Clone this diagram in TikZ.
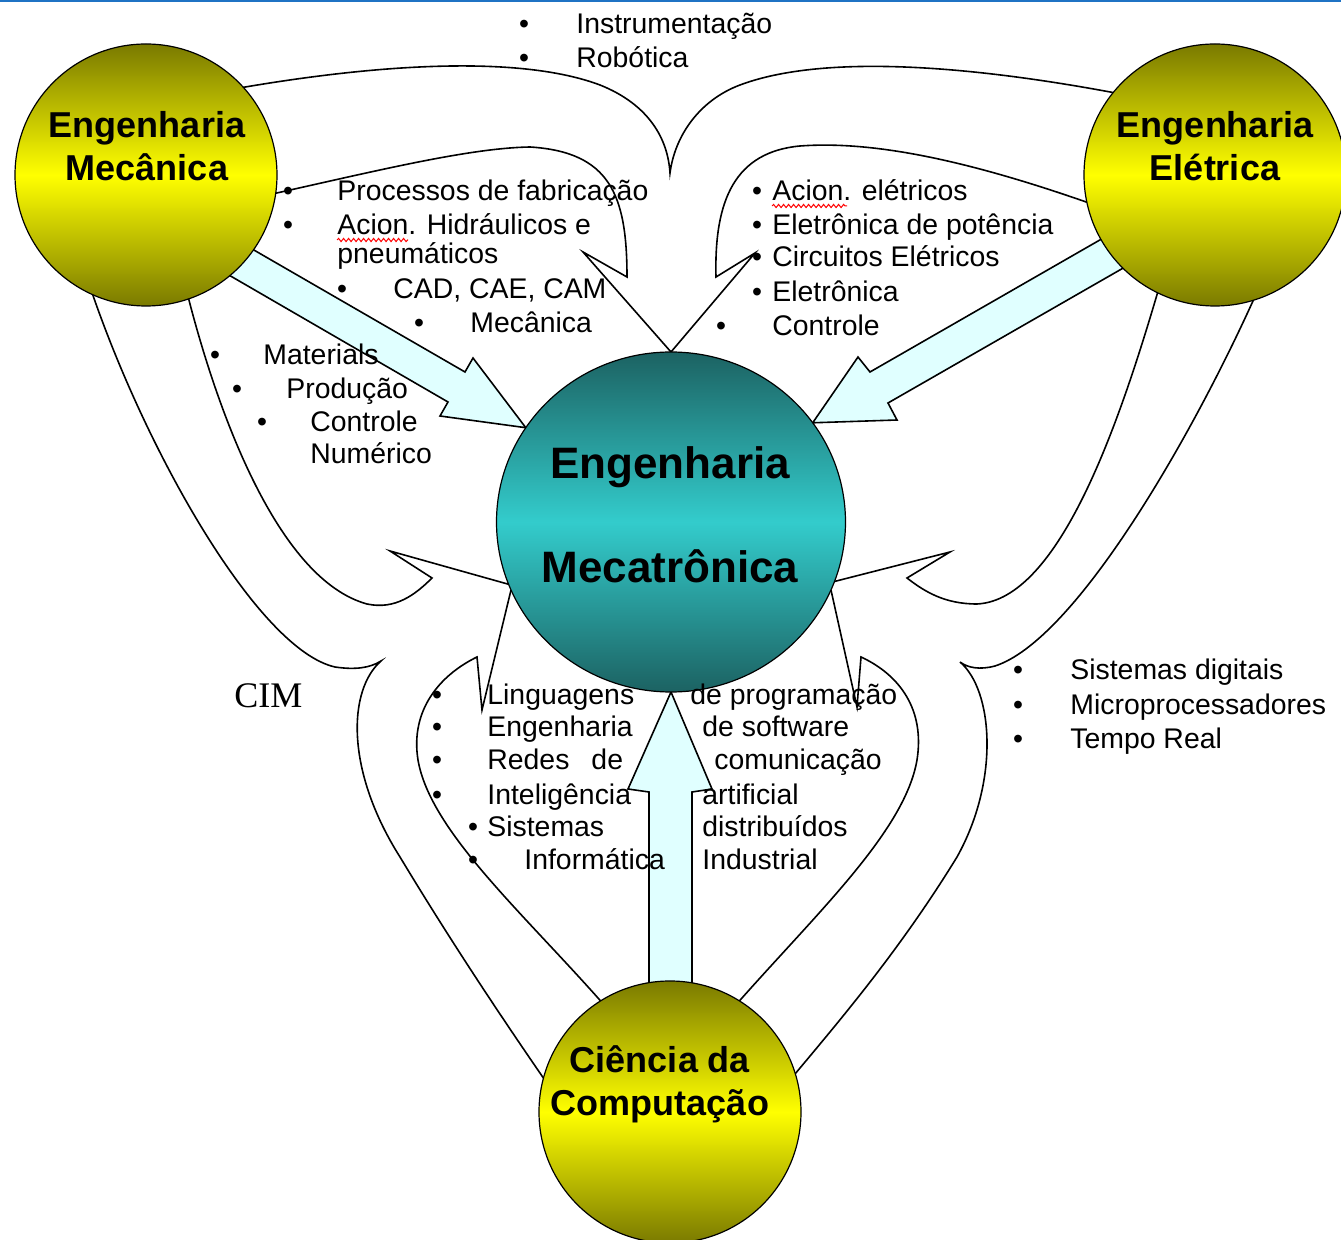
\documentclass[tikz,border=0pt]{standalone}
\usepackage{fontspec}
\setmainfont{Liberation Sans}
\newfontfamily\cimfont{Liberation Serif}
\usetikzlibrary{shapes.geometric,decorations.pathmorphing,calc,backgrounds}
\definecolor{olivedark}{HTML}{7A7A00}
\definecolor{yellowlight}{HTML}{FFFF00}
\definecolor{tealdark}{HTML}{1C6262}
\definecolor{teallight}{HTML}{33CCCC}
\definecolor{arrowfill}{HTML}{E0FFFF}
\definecolor{topblue}{HTML}{1F73C4}

\begin{document}
\begin{tikzpicture}[
  x=0.5pt, y=-0.5pt,
  area/.style={circle, draw=black, line width=0.6pt, inner sep=0pt, outer sep=0pt, minimum size=131pt, top color=olivedark, bottom color=olivedark, middle color=yellowlight},
  core/.style={ellipse, draw=black, line width=0.6pt, inner sep=0pt, outer sep=0pt, minimum width=174.5pt, minimum height=170pt, top color=tealdark, bottom color=tealdark, middle color=teallight},
  title/.style={font=\fontsize{18}{21.5}\selectfont\bfseries, align=center, inner sep=0pt},
  bigtitle/.style={font=\fontsize{22}{26}\selectfont\bfseries, align=center, inner sep=0pt},
  item/.style={anchor=base west, inner sep=0pt, font=\fontsize{14.2}{17}\selectfont},
  dot/.style={anchor=base, inner sep=0pt, font=\fontsize{14.2}{17}\selectfont},
  link/.style={line width=0.8pt},
  block/.style={draw=black, line width=0.8pt, fill=arrowfill},
  spell/.style={draw=red, line width=0.5pt, decorate, decoration={snake, amplitude=0.8pt, segment length=2.5pt}},
  topline/.style={draw=topblue, line width=1pt},
]
\useasboundingbox (0,0) rectangle (1341,1240);

% the four areas
\node[area] (mec) at (146,175) {};
\node[area] (ele) at (1215,175) {};
\node[area] (comp) at (670,1112) {};
\node[core] (cen) at (671,522) {};

\node[title] (mect) at (147,146) {Engenharia\\Mecânica};
\node[title] (elet) at (1215,146) {Engenharia\\Elétrica};
\node[title] (compt) at (660,1084) {Ciência da\\Computação};
\node[bigtitle] (cent) at (670,515) {Engenharia\\[26pt]Mecatrônica};

% top list
\node[dot] (tb1) at (524,34) {•};
\node[item] (t1) at (576,34) {Instrumentação};
\node[dot] (tb2) at (524,68) {•};
\node[item] (t2) at (576,68) {Robótica};

% mecanica list
\node[dot] (mb1) at (288,201) {•};
\node[item] (m1) at (337,201) {Processos de fabricação};
\node[dot] (mb2) at (288,235) {•};
\node[item] (m2) at (337,235) {Acion. Hidráulicos e};
\node[item] (m2b) at (337,264) {pneumáticos};
\node[dot] (mb3) at (342,299) {•};
\node[item] (m3) at (393,299) {CAD, CAE, CAM};
\node[dot] (mb4) at (419,333) {•};
\node[item] (m4) at (470,333) {Mecânica};

% shared with production
\node[dot] (pb1) at (215,365) {•};
\node[item] (p1) at (263,365) {Materials};
\node[dot] (pb2) at (237,399) {•};
\node[item] (p2) at (286,399) {Produção};
\node[dot] (pb3) at (262,432) {•};
\node[item] (p3) at (310,432) {Controle};
\node[item] (p3b) at (310,464) {Numérico};

% eletrica list
\node[dot] (eb1) at (757,201) {•};
\node[item] (e1) at (772,201) {Acion. elétricos};
\node[dot] (eb2) at (757,235) {•};
\node[item] (e2) at (772,235) {Eletrônica de potência};
\node[dot] (eb3) at (757,267) {•};
\node[item] (e3) at (772,267) {Circuitos Elétricos};
\node[dot] (eb4) at (757,302) {•};
\node[item] (e4) at (772,302) {Eletrônica};
\node[dot] (eb5) at (721,336) {•};
\node[item] (e5) at (772,336) {Controle};

% digital list
\node[dot] (db1) at (1018,680) {•};
\node[item] (d1) at (1070,680) {Sistemas digitais};
\node[dot] (db2) at (1018,715) {•};
\node[item] (d2) at (1070,715) {Microprocessadores};
\node[dot] (db3) at (1018,749) {•};
\node[item] (d3) at (1070,749) {Tempo Real};

% computacao list
\node[dot] (cb1) at (437,705) {•};
\node[item] (c1) at (487,705) {Linguagens};
\node[item] (c1b) at (690,705) {de programação};
\node[dot] (cb2) at (437,737) {•};
\node[item] (c2) at (487,737) {Engenharia};
\node[item] (c2b) at (702,737) {de software};
\node[dot] (cb3) at (437,770) {•};
\node[item] (c3) at (487,770) {Redes\hspace{11pt}de};
\node[item] (c3b) at (714,770) {comunicação};
\node[dot] (cb4) at (437,805) {•};
\node[item] (c4) at (487,805) {Inteligência};
\node[item] (c4b) at (702,805) {artificial};
\node[dot] (cb5) at (473,837) {•};
\node[item] (c5) at (487,837) {Sistemas};
\node[item] (c5b) at (702,837) {distribuídos};
\node[dot] (cb6) at (473,870) {•};
\node[item] (c6) at (524,870) {Informática};
\node[item] (c6b) at (702,870) {Industrial};

\node[anchor=base west, inner sep=0pt, font=\cimfont\fontsize{18}{21}\selectfont] (cim) at (234,708) {CIM};

\draw[spell] ($(m2.base west)+(0,5)$) -- ++(71,0);
\draw[spell] ($(e1.base west)+(0,5)$) -- ++(75,0);

\begin{scope}[on background layer]
\fill[white] (0,0) rectangle (1341,1240);
\draw[topline] (0,1) -- (1341,1);

% big arrows into the centre
\draw[block] (240,242) -- (465,372) -- (473,358) -- (cen.147) -- (440,416) -- (448,402) -- (215,267) -- cycle;
\draw[block] (1112,233) -- (870,372) -- (858,357) -- (cen.35) -- (897,420) -- (888,403) -- (1132,263) -- cycle;
\draw[block] (649,995) -- (649,792) -- (628,789) -- (cen.-90) -- (712,789) -- (692,792) -- (692,995) -- cycle;

% brace on top
\draw[link] (mec.42) .. controls (380,64) and (520,55) .. (600,85)
  .. controls (650,105) and (668,140) .. (670,173)
  .. controls (675,135) and (700,100) .. (740,85)
  .. controls (820,55) and (960,64) .. (ele.141);

% loops down to the centre
\draw[link] (mec.-8) .. controls (380,170) and (470,148) .. (530,147)
  .. controls (610,152) and (627,195) .. (627,277) -- (583,252) -- (cen.90);
\draw[link] (ele.192) .. controls (980,165) and (880,140) .. (800,146)
  .. controls (735,152) and (714,200) .. (716,277) -- (755,253) -- (cen.90);

% left side
\draw[link] (mec.-71) .. controls (220,420) and (280,580) .. (367,604)
  .. controls (395,610) and (415,595) .. (432,578) -- (390,551) -- (cen.201);
\draw[link] (mec.-114) .. controls (150,460) and (260,650) .. (335,667)
  .. controls (355,670) and (370,668) .. (381,661)
  .. controls (348,690) and (345,770) .. (400,857)
  .. controls (450,940) and (500,1015) .. (comp.165);

% right side
\draw[link] (ele.-116) .. controls (1120,420) and (1060,600) .. (977,604)
  .. controls (945,604) and (925,592) .. (907,578) -- (950,552) -- (cen.-20);
\draw[link] (ele.-73) .. controls (1190,440) and (1075,640) .. (995,666)
  .. controls (980,670) and (968,668) .. (960,662)
  .. controls (993,690) and (1000,780) .. (957,857)
  .. controls (900,950) and (840,1020) .. (comp.17);

% bottom
\draw[link] (comp.122) .. controls (520,910) and (430,830) .. (418,760)
  .. controls (410,710) and (440,675) .. (477,657) -- (482,710) -- (cen.203);
\draw[link] (comp.58) .. controls (820,910) and (905,830) .. (917,760)
  .. controls (925,710) and (900,675) .. (861,657) -- (857,707) -- (cen.-23);
\end{scope}

\end{tikzpicture}
\end{document}
